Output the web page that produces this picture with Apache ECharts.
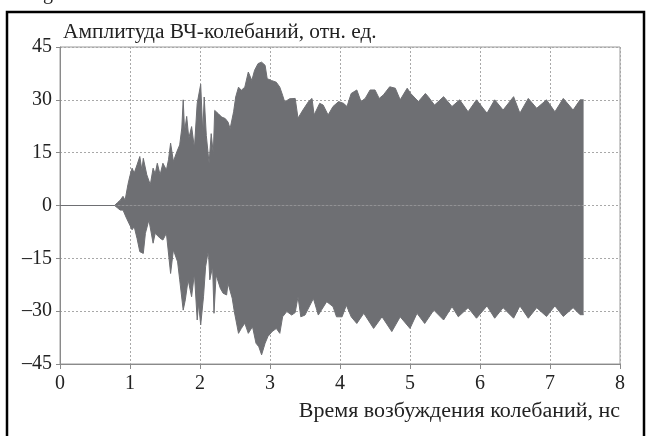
<!DOCTYPE html>
<html>
<head>
<meta charset="utf-8">
<script src="https://cdn.jsdelivr.net/npm/echarts@6/dist/echarts.min.js"></script>
<style>
html,body{margin:0;padding:0;background:#fff;}
#chart{width:646px;height:436px;}
</style>
</head>
<body>
<div id="chart"></div>
<script>
// Upper envelope of the HF oscillation (time in ns, amplitude in rel. units)
var upperTime = [0,0.78,0.82,0.86,0.90,0.93,0.97,1.00,1.03,1.06,1.10,1.14,1.17,1.19,1.24,1.29,1.33,1.36,1.39,1.43,1.47,1.52,1.55,1.58,1.62,1.67,1.71,1.74,1.76,1.78,1.81,1.84,1.88,1.92,1.96,1.98,2.01,2.04,2.06,2.09,2.13,2.16,2.19,2.21,2.26,2.31,2.36,2.40,2.43,2.48,2.51,2.55,2.59,2.64,2.69,2.74,2.78,2.83,2.88,2.93,2.96,3.02,3.09,3.14,3.18,3.21,3.28,3.36,3.40,3.47,3.55,3.60,3.63,3.71,3.76,3.83,3.90,3.98,4.05,4.10,4.16,4.24,4.30,4.36,4.43,4.50,4.56,4.62,4.71,4.79,4.86,4.96,5.01,5.12,5.22,5.26,5.35,5.48,5.60,5.71,5.83,5.95,6.10,6.21,6.33,6.48,6.57,6.69,6.81,6.95,7.07,7.19,7.33,7.43,7.48];
var upperAmp  = [0,0,0.8,1.5,2.6,1.5,5.9,8.5,10.6,9.2,11.5,13.9,10,13.4,8.7,5.9,10.6,9,12,8.7,12,10.1,13,17.7,12.5,15.3,17.2,22,30,21,25.3,19.1,22.4,16.3,29,29.4,34.4,20.4,30.8,19.9,11.9,20.4,14.7,27,26.1,25.1,24.7,23.7,21.8,26.6,30.8,33.6,32.7,33.6,37.9,35.5,38.4,40.3,40.7,39.8,36,35.5,35,33.6,31.3,29.4,30.3,30.4,24.8,27.1,29.5,30.4,25.7,29,28.5,25.7,28.1,29.5,29,28.1,31.8,32.8,29.5,30.4,32.8,32.8,30.4,31.4,33.7,33.3,30,33.3,31.8,29.5,31.8,30.9,28.5,30.9,28.1,30,26.6,30,26.2,30,27.1,30.9,26.2,30.4,27.6,30,26.6,30.4,27.1,30,30];
// Lower envelope
var lowerTime = [0,0.78,0.86,0.90,0.95,1.03,1.06,1.10,1.14,1.19,1.22,1.27,1.33,1.36,1.43,1.47,1.52,1.58,1.62,1.68,1.71,1.76,1.79,1.83,1.88,1.92,1.96,1.98,2.01,2.05,2.08,2.12,2.14,2.18,2.20,2.23,2.29,2.33,2.38,2.40,2.46,2.49,2.55,2.59,2.64,2.69,2.75,2.80,2.84,2.88,2.93,2.97,3.03,3.09,3.14,3.18,3.24,3.31,3.36,3.40,3.44,3.50,3.62,3.69,3.81,3.90,3.95,4.03,4.09,4.16,4.24,4.34,4.48,4.60,4.74,4.86,5.00,5.10,5.21,5.34,5.48,5.60,5.69,5.83,5.95,6.10,6.21,6.33,6.48,6.57,6.69,6.81,6.95,7.07,7.19,7.33,7.43,7.48];
var lowerAmp  = [0,0,-1.3,-1.3,-3.6,-6.9,-6,-9.3,-13.1,-13.6,-7.9,-4.1,-10.7,-7.9,-9.3,-9.8,-7.9,-19.3,-12.6,-16,-21.1,-29.7,-26.8,-21.1,-25.9,-19.3,-32.5,-27.8,-33.9,-25.9,-17.4,-12.6,-21.1,-17.4,-30.6,-19.7,-23.5,-24.9,-25.4,-22.1,-26.3,-30.1,-36.3,-34.9,-33.4,-36.3,-34.4,-39.1,-40.1,-42.4,-39.1,-37.2,-35.8,-34.9,-36.3,-31.6,-30.1,-31.1,-30.4,-25.9,-31.6,-31.1,-26.4,-31.1,-27.3,-28.7,-31.6,-31.6,-28.3,-31.6,-33.5,-30.6,-34.9,-31.6,-35.8,-31.6,-34.9,-30.6,-33.5,-29.7,-32.5,-28.7,-31.6,-29,-32,-28.5,-32,-29,-32,-28.5,-32,-29,-31.5,-28.5,-31.5,-29,-31,-31];
var xTicks = [0,1,2,3,4,5,6,7,8];
var yTicks = [-45,-30,-15,0,15,30,45];
var yName = 'Амплитуда ВЧ-колебаний, отн. ед.';
var xName = 'Время возбуждения колебаний, нс';

function pairs(t, v){ var out=[]; for (var i=0;i<t.length;i++) out.push([t[i], v[i]]); return out; }

var FONT = '"Liberation Serif", "Times New Roman", serif';
var FILL = '#6e6f73';
var chart = echarts.init(document.getElementById('chart'), null, {renderer:'canvas'});
chart.setOption({
  animation: false,
  backgroundColor: '#fff',
  grid: {left:60, right:26, top:47, bottom:72, show:true, borderColor:'#9a9a9a', borderWidth:1},
  xAxis: {
    type:'value', min:xTicks[0], max:xTicks[xTicks.length-1], interval:1,
    axisLine:{show:true, onZero:false, lineStyle:{color:'#8a8a8a', width:1}},
    axisTick:{show:true, inside:false, length:5, lineStyle:{color:'#8a8a8a'}},
    axisLabel:{fontFamily:FONT, fontSize:20, color:'#222', margin:10},
    splitLine:{show:true, lineStyle:{color:'#a8a8a8', type:[2,2], width:1}}
  },
  yAxis: {
    type:'value', min:yTicks[0], max:yTicks[yTicks.length-1], interval:15,
    axisLine:{show:true, onZero:false, lineStyle:{color:'#8a8a8a', width:1}},
    axisTick:{show:true, inside:false, length:4, lineStyle:{color:'#8a8a8a'}},
    axisLabel:{fontFamily:FONT, fontSize:20, color:'#222', margin:8,
      formatter:function(v){ return v<0 ? '–'+Math.abs(v) : String(v); }},
    splitLine:{show:true, lineStyle:{color:'#a8a8a8', type:[2,2], width:1}}
  },
  series: [
    {type:'line', data:pairs(upperTime, upperAmp), symbol:'none', z:3,
     lineStyle:{color:FILL, width:1}, areaStyle:{color:FILL, opacity:1, origin:0}},
    {type:'line', data:pairs(lowerTime, lowerAmp), symbol:'none', z:3,
     lineStyle:{color:FILL, width:1}, areaStyle:{color:FILL, opacity:1, origin:0}}
  ],
  graphic: [
    {type:'rect', silent:true, z:100, shape:{x:7, y:12, width:637, height:440},
     style:{fill:'none', stroke:'#000', lineWidth:2.5}},
    {type:'text', silent:true, x:43, y:-16, style:{text:'g', font:'20px '+FONT, fill:'#222', verticalAlign:'top'}},
    {type:'text', silent:true, x:63, y:43, scaleX:1.07,
     style:{text:yName, font:'20px '+FONT, fill:'#222', align:'left', verticalAlign:'bottom'}},
    {type:'text', silent:true, x:620, y:402, scaleX:1.1,
     style:{text:xName, font:'20px '+FONT, fill:'#222', align:'right', verticalAlign:'top'}}
  ]
});
</script>
</body>
</html>
